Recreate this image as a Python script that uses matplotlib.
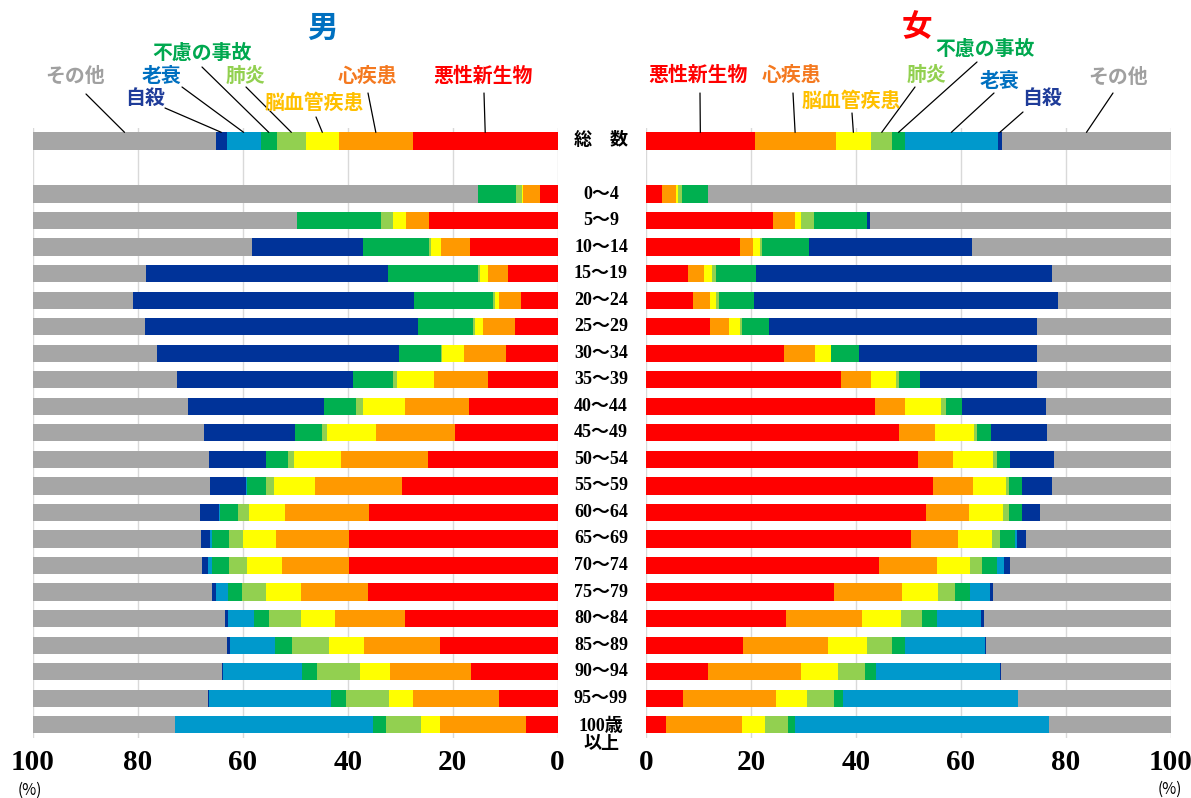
import numpy as np
import matplotlib.pyplot as plt
from matplotlib.transforms import blended_transform_factory

plt.rcParams['font.family'] = ['Liberation Serif', 'Noto Sans CJK JP']

# 死因別死亡割合（性・年齢階級別）
age_groups = ['総　数', '0～4', '5～9', '10～14', '15～19', '20～24', '25～29',
              '30～34', '35～39', '40～44', '45～49', '50～54', '55～59', '60～64',
              '65～69', '70～74', '75～79', '80～84', '85～89', '90～94', '95～99',
              '100歳\n以上']

causes = ['悪性新生物', '心疾患', '脳血管疾患', '肺炎', '不慮の事故', '老衰', '自殺', 'その他']
bar_colors = ['#FF0000', '#FF9900', '#FFFF00', '#92D050', '#00B050', '#0099CC', '#003399', '#A6A6A6']
text_colors = ['#FF0000', '#F47920', '#FFC000', '#92D050', '#00A84F', '#0070C0', '#1F3C99', '#A0A0A0']

# 男
m_cancer = [27.6, 3.4, 24.6, 16.7, 9.4, 6.9, 8.2, 9.9, 13.2, 16.9, 19.5, 24.7, 29.6, 36.0, 39.8, 39.8, 36.2, 29.1, 22.5, 16.5, 11.2, 6.1]
m_heart = [14.1, 3.2, 4.3, 5.5, 3.8, 4.3, 6.1, 8.0, 10.4, 12.2, 15.1, 16.5, 16.6, 15.9, 13.9, 12.8, 12.8, 13.3, 14.4, 15.5, 16.4, 16.3]
m_stroke = [6.3, 0.2, 2.5, 2.0, 1.5, 0.7, 1.5, 4.1, 7.1, 8.0, 9.3, 9.1, 7.8, 7.0, 6.3, 6.6, 6.6, 6.6, 6.6, 5.7, 4.5, 3.7]
m_pneum = [5.5, 1.1, 2.2, 0.4, 0.4, 0.5, 0.4, 0.2, 0.7, 1.3, 1.1, 1.0, 1.5, 2.0, 2.7, 3.5, 4.5, 6.1, 7.1, 8.1, 8.3, 6.6]
m_accident = [3.1, 7.3, 16.0, 12.4, 17.2, 14.9, 10.4, 8.1, 7.6, 6.1, 5.0, 4.2, 3.8, 3.5, 3.1, 3.1, 2.8, 2.8, 3.2, 3.0, 2.8, 2.5]
m_senility = [6.5, 0.0, 0.0, 0.0, 0.0, 0.0, 0.0, 0.0, 0.0, 0.0, 0.0, 0.1, 0.1, 0.1, 0.4, 0.9, 2.3, 5.0, 8.7, 15.0, 23.3, 37.7]
m_suicide = [2.0, 0.0, 0.1, 21.2, 46.2, 53.6, 52.0, 46.0, 33.6, 26.0, 17.4, 10.9, 6.9, 3.6, 1.8, 1.0, 0.7, 0.5, 0.5, 0.2, 0.1, 0.0]
m_other = [34.9, 84.8, 50.3, 41.8, 21.5, 19.1, 21.4, 23.7, 27.4, 29.5, 32.6, 33.5, 33.7, 31.9, 32.0, 32.3, 34.1, 36.6, 37.0, 36.0, 33.4, 27.1]

# 女
f_cancer = [20.7, 3.0, 24.2, 17.9, 8.0, 9.0, 12.1, 26.3, 37.1, 43.7, 48.2, 51.8, 54.6, 53.3, 50.5, 44.4, 35.9, 26.6, 18.4, 11.9, 7.0, 3.8]
f_heart = [15.4, 2.8, 4.1, 2.5, 3.0, 3.1, 3.8, 5.8, 5.8, 5.7, 6.8, 6.7, 7.6, 8.3, 9.0, 11.1, 12.8, 14.6, 16.2, 17.7, 17.7, 14.4]
f_stroke = [6.8, 0.3, 1.2, 1.3, 1.5, 1.2, 2.0, 3.1, 4.8, 6.8, 7.5, 7.6, 6.3, 6.4, 6.4, 6.3, 7.0, 7.3, 7.5, 7.0, 6.0, 4.5]
f_pneum = [4.0, 0.7, 2.5, 0.4, 0.9, 0.6, 0.4, 0.1, 0.4, 1.0, 0.5, 0.7, 0.7, 1.2, 1.5, 2.2, 3.1, 4.0, 4.8, 5.1, 5.1, 4.3]
f_accident = [2.4, 5.1, 10.1, 9.0, 7.5, 6.7, 5.1, 5.3, 4.1, 3.0, 2.8, 2.5, 2.5, 2.4, 2.8, 2.8, 2.9, 3.0, 2.4, 2.2, 1.7, 1.4]
f_senility = [17.7, 0.0, 0.0, 0.0, 0.0, 0.0, 0.0, 0.0, 0.0, 0.0, 0.0, 0.0, 0.0, 0.1, 0.4, 1.3, 3.8, 8.4, 15.2, 23.5, 33.3, 48.3]
f_suicide = [0.8, 0.0, 0.5, 30.9, 56.5, 57.8, 51.0, 33.8, 22.2, 15.9, 10.6, 8.4, 5.7, 3.3, 1.8, 1.2, 0.5, 0.4, 0.3, 0.2, 0.1, 0.0]
f_other = [32.2, 88.1, 57.4, 38.0, 22.6, 21.6, 25.6, 25.6, 25.6, 23.9, 23.6, 22.3, 22.6, 25.0, 27.6, 30.7, 34.0, 35.7, 35.2, 32.4, 29.1, 23.3]

male = [m_cancer, m_heart, m_stroke, m_pneum, m_accident, m_senility, m_suicide, m_other]
female = [f_cancer, f_heart, f_stroke, f_pneum, f_accident, f_senility, f_suicide, f_other]

# 総数の下に1行あける
ypos = np.array([0] + list(range(2, 2 + len(age_groups) - 1)))
bar_h = 0.65

W, H = 1191, 798


def fig_xy(x, y):
    return x / W, 1 - y / H


fig = plt.figure(figsize=(W / 100, H / 100), dpi=100)
ax_m = fig.add_axes([33 / W, 1 - 738 / H, 524.6 / W, 610.3 / H])
ax_f = fig.add_axes([646 / W, 1 - 738 / H, 525 / W, 610.3 / H])

for ax, series in [(ax_m, male), (ax_f, female)]:
    left = np.zeros(len(ypos))
    for vals, col in zip(series, bar_colors):
        vals = np.array(vals)
        ax.barh(ypos, vals, left=left, height=bar_h, color=col, linewidth=0, zorder=2)
        left += vals
    ax.set_ylim(ypos[-1] + 0.5, -0.5)
    ax.set_yticks([])
    ax.set_xticks(range(0, 101, 20))
    ax.grid(axis='x', color='#D9D9D9', lw=1, zorder=0)
    ax.set_axisbelow(True)
    for s in ax.spines.values():
        s.set_visible(False)
    ax.tick_params(axis='x', length=0, pad=8, labelsize=21)
    for lab in ax.get_xticklabels():
        lab.set_fontweight('bold')

ax_m.set_xlim(100, 0)
ax_f.set_xlim(0, 100)

# 年齢階級ラベル（中央）
tr = blended_transform_factory(fig.transFigure, ax_m.transData)
for y, lab in zip(ypos, age_groups):
    yy = y + 0.41 if '\n' in lab else y
    fig.text(601 / W, yy, lab, transform=tr, ha='center', va='center',
             fontsize=13, fontweight='bold', linespacing=1.1)

# タイトル
fig.text(*fig_xy(322, 28), '男', ha='center', va='center', fontsize=22,
         fontweight='bold', color='#0070C0', family='Noto Sans CJK JP')
fig.text(*fig_xy(917, 27), '女', ha='center', va='center', fontsize=22,
         fontweight='bold', color='#FF0000', family='Noto Sans CJK JP')

# 凡例ラベルと引出線
m_label_pos = [(483, 75), (368, 75), (314, 102), (245, 75), (202, 52), (161, 75), (145, 97), (75, 75)]
m_line_start = [(484, 93), (368, 93), (316, 117), (246, 87), (202, 67), (182, 87), (165, 108), (86, 94)]
f_label_pos = [(698, 74), (792, 74), (851, 100), (926, 74), (985, 48), (1000, 80), (1042, 97), (1118, 76)]
f_line_start = [(700, 93), (793, 93), (852, 113), (915, 87), (977, 62), (994, 93), (1023, 112), (1113, 93)]

for ax, series, lpos, lstart in [(ax_m, male, m_label_pos, m_line_start),
                                 (ax_f, female, f_label_pos, f_line_start)]:
    total = [s[0] for s in series]
    cum = np.cumsum(total)
    for k, name in enumerate(causes):
        mid = cum[k] - total[k] / 2
        fig.text(*fig_xy(*lpos[k]), name, ha='center', va='center', fontsize=14.3,
                 fontweight='bold', color=text_colors[k], family='Noto Sans CJK JP')
        ax.annotate('', xy=(mid, -bar_h / 2), xycoords='data',
                    xytext=fig_xy(*lstart[k]), textcoords='figure fraction',
                    arrowprops=dict(arrowstyle='-', color='black', lw=0.9,
                                    shrinkA=0, shrinkB=0),
                    annotation_clip=False)

fig.text(*fig_xy(30, 790), '(%)', ha='center', va='center', fontsize=11, family='Noto Sans CJK JP')
fig.text(*fig_xy(1170, 789), '(%)', ha='center', va='center', fontsize=11, family='Noto Sans CJK JP')

fig.savefig('out.png', dpi=100)
